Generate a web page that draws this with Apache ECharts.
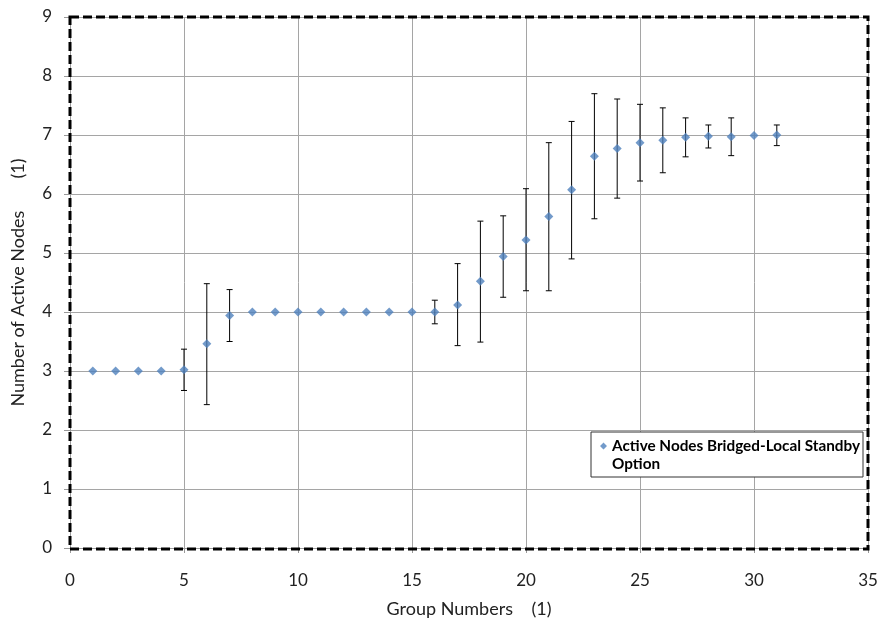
<!DOCTYPE html>
<html>
<head>
<meta charset="utf-8">
<title>Active Nodes</title>
<script src="https://cdn.jsdelivr.net/npm/echarts@6/dist/echarts.min.js"></script>
<style>
html,body{margin:0;padding:0;background:#fff;}
#main{width:881px;height:623px;}
</style>
</head>
<body>
<div id="main"></div>
<script>
// group numbers (x)
var groups=[1,2,3,4,5,6,7,8,9,10,11,12,13,14,15,16,17,18,19,20,21,22,23,24,25,26,27,28,29,30,31];
// mean active nodes
var means=[3,3,3,3,3.02,3.46,3.94,4,4,4,4,4,4,4,4,4.0,4.12,4.52,4.94,5.22,5.62,6.07,6.64,6.77,6.87,6.91,6.96,6.98,6.97,6.99,7.0];
// error bar ends (null = no bar)
var errLow=[null,null,null,null,2.67,2.43,3.50,null,null,null,null,null,null,null,null,3.80,3.43,3.49,4.25,4.36,4.36,4.90,5.58,5.93,6.22,6.36,6.63,6.78,6.65,null,6.82];
var errHigh=[null,null,null,null,3.37,4.48,4.38,null,null,null,null,null,null,null,null,4.20,4.82,5.54,5.63,6.09,6.87,7.23,7.70,7.61,7.52,7.46,7.29,7.17,7.29,null,7.17];

var seriesName='Active Nodes Bridged-Local Standby Option';
var fontName='Lato, "Open Sans", sans-serif';

// grid in pixels (also used for the dashed border)
var gLeft=70,gTop=17,gRight=13,gBottom=74;
var W=881,H=623;

var pts=[];
var bars=[];
for(var i=0;i<groups.length;i++){
	pts.push([groups[i],means[i]]);
	if(errLow[i]!=null){
		bars.push([groups[i],errLow[i],errHigh[i]]);
	}
}

var myChart=echarts.init(document.getElementById('main'));
var option={
	backgroundColor:'#fff',
	animation:false,
	grid:{left:gLeft,top:gTop,right:gRight,bottom:gBottom,show:false},
	legend:{
		data:[{
			name:seriesName,
			// diamond sits at the top of a taller box so it lines up with the first text line
			icon:'path://M3.5,0L7,3.5L3.5,7L0,3.5Z M0,25L0.01,25'
		}],
		left:591,
		top:432,
		orient:'vertical',
		itemWidth:7,
		itemHeight:25,
		itemGap:0,
		padding:[5,3,4,9],
		borderColor:'#333',
		borderWidth:1,
		backgroundColor:'#fff',
		formatter:function(){ return 'Active Nodes Bridged-Local Standby\nOption'; },
		textStyle:{fontFamily:fontName,fontWeight:'bold',fontSize:15.3,color:'#000',lineHeight:18}
	},
	xAxis:{
		type:'value',
		min:0,max:35,interval:5,
		name:'Group Numbers    (1)',
		nameLocation:'middle',
		nameGap:52,
		nameTextStyle:{fontFamily:fontName,fontSize:18,color:'#222'},
		axisLine:{show:true,lineStyle:{color:'#999'}},
		axisTick:{show:true,length:5,lineStyle:{color:'#999'}},
		axisLabel:{fontFamily:fontName,fontSize:17,color:'#222',margin:24},
		splitLine:{show:true,lineStyle:{color:'#a5a5a5',width:1}}
	},
	yAxis:{
		type:'value',
		min:0,max:9,interval:1,
		name:'Number of Active Nodes       (1)',
		nameLocation:'middle',
		nameGap:43,
		nameTextStyle:{fontFamily:fontName,fontSize:18,color:'#222'},
		axisLine:{show:true,lineStyle:{color:'#999'}},
		axisTick:{show:true,length:6,lineStyle:{color:'#999'}},
		axisLabel:{fontFamily:fontName,fontSize:17,color:'#222',margin:18},
		splitLine:{show:true,lineStyle:{color:'#a5a5a5',width:1}}
	},
	graphic:[{
		type:'rect',
		z:100,
		shape:{x:gLeft,y:gTop,width:W-gLeft-gRight,height:H-gTop-gBottom},
		style:{fill:'none',stroke:'#000',lineWidth:3,lineDash:[9,4]}
	}],
	series:[
		{
			name:'errorbars',
			type:'custom',
			z:3,
			data:bars,
			renderItem:function(params,api){
				var x=api.value(0);
				var lo=api.coord([x,api.value(1)]);
				var hi=api.coord([x,api.value(2)]);
				var cap=3;
				var st={stroke:'#000',lineWidth:1};
				return {
					type:'group',
					children:[
						{type:'line',shape:{x1:lo[0],y1:lo[1],x2:hi[0],y2:hi[1]},style:st},
						{type:'line',shape:{x1:lo[0]-cap,y1:lo[1],x2:lo[0]+cap,y2:lo[1]},style:st},
						{type:'line',shape:{x1:hi[0]-cap,y1:hi[1],x2:hi[0]+cap,y2:hi[1]},style:st}
					]
				};
			}
		},
		{
			name:seriesName,
			type:'scatter',
			z:5,
			symbol:'diamond',
			symbolSize:9,
			itemStyle:{color:'#4F81BD'},
			data:pts
		}
	]
};
myChart.setOption(option);
</script>
</body>
</html>
